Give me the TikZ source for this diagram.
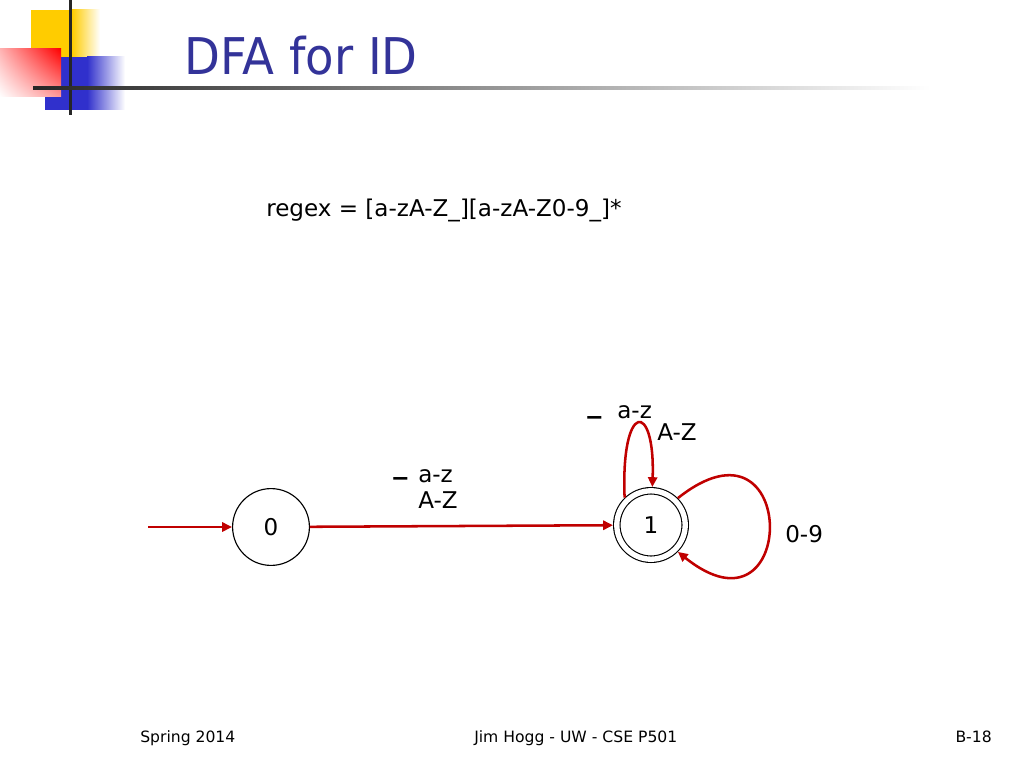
\documentclass[tikz,border=0pt]{standalone}
\usepackage{fontspec}
\setmainfont{DejaVu Sans}
\newfontfamily\titlefont{DejaVu Sans}[FakeStretch=0.92]
\usetikzlibrary{arrows.meta,positioning,calc,shadings}
\definecolor{titleblue}{RGB}{51,51,153}
\definecolor{arcred}{RGB}{192,0,0}
\definecolor{logoyellow}{RGB}{255,204,0}
\definecolor{logored}{RGB}{255,0,0}
\definecolor{logoblue}{RGB}{48,48,204}
\tikzset{
  state/.style={circle, draw=black, line width=0.8pt, minimum size=1.92cm, inner sep=0pt,
                font=\fontsize{16.4}{19}\selectfont},
  accept/.style={state, double, double distance=3.8pt, minimum size=1.71cm, outer sep=2.7pt},
  arr/.style={-{Triangle[length=7pt, width=6.5pt]}, line width=1.8pt, arcred},
  lbl/.style={anchor=base west, inner sep=0pt, font=\fontsize{16.4}{19}\selectfont},
  under/.style={lbl, font=\bfseries\fontsize{20}{22}\selectfont},
  foot/.style={inner sep=0pt, font=\fontsize{11.1}{13}\selectfont},
}

\begin{document}
\begin{tikzpicture}[x=0.025cm, y=-0.025cm]
\fill[white] (0,0) rectangle (1024,768);
\useasboundingbox (0,0) rectangle (1024,768);
% logo
\fill[logoyellow] (31,10) rectangle (72,57);
\shade[left color=logoyellow, right color=white] (72,10) rectangle (100,57);
\fill[logoblue] (45,57) rectangle (87,110);
\shade[left color=logoblue, right color=white] (87,57) rectangle (125,110);
\shade[upper right=logored, upper left=logored!30, lower right=logored!40, lower left=white] (0,49) rectangle (61,97);
\fill[black!85] (68.5,0) rectangle (71.5,115);
\shade[left color=black!85, middle color=black!60, right color=white] (33,86.5) rectangle (930,89.5);
\node[anchor=base west, inner sep=0pt, text=titleblue, font=\titlefont\fontsize{36}{40}\selectfont] (title) at (184,75) {DFA for ID};

\node[lbl] (regex) at (266,216) {regex = [a-zA-Z\_][a-zA-Z0-9\_]*};

\node[state] (n0) at (271,527) {0};
\node[accept] (n1) at (651,525) {1};
\coordinate (start) at (148,527);

\draw[arr] (start) -- (n0);
\draw[arr] (n0) -- (n1);
\draw[arr] (n1.134) .. controls +(-4,-97) and +(3,-87) .. (n1.88);
\draw[arr] (n1.45) .. controls +(122,-97) and +(121,97) .. (n1.-45);

\node[under] (u01) at (393,473) {\_};
\node[lbl] (lo01) at (418,482) {a-z};
\node[lbl] (up01) at (418,508) {A-Z};
\node[under] (u11) at (587,412) {\_};
\node[lbl] (lo11) at (617,418) {a-z};
\node[lbl] (up11) at (657,440) {A-Z};
\node[lbl] (dig11) at (785,542) {0-9};

\node[foot, anchor=base west] (season) at (140,742) {Spring 2014};
\node[foot, anchor=base west] (author) at (474,742) {Jim Hogg - UW - CSE P501};
\node[foot, anchor=base east] (page) at (992,742) {B-18};
\end{tikzpicture}
\end{document}
